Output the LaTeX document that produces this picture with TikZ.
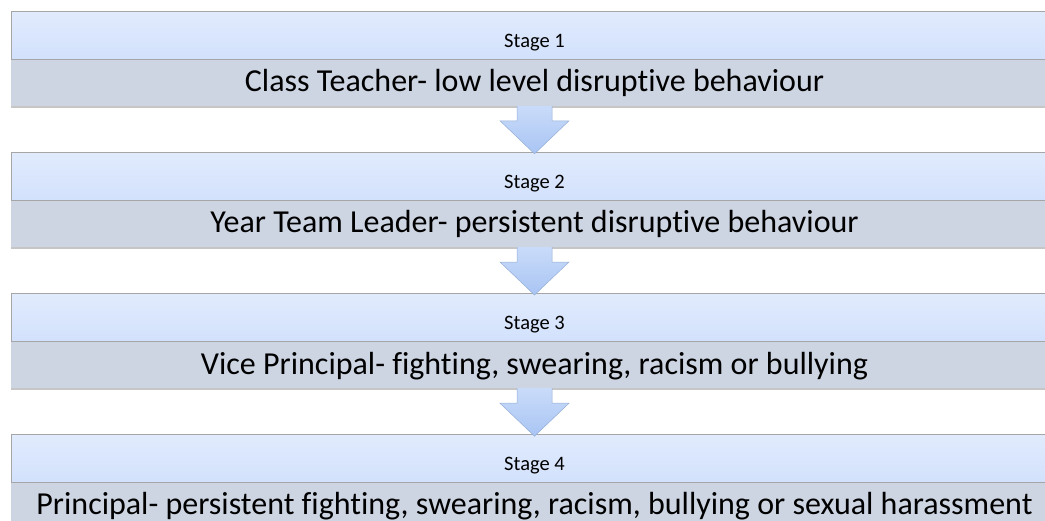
\documentclass[tikz,border=0pt]{standalone}
\usepackage{fontspec}
\setmainfont{Carlito}[Ligatures=NoCommon]
\usepackage{tikz}
\usetikzlibrary{positioning,calc,shadows}
\definecolor{bandtop}{HTML}{E1EBFD}
\definecolor{bandbot}{HTML}{D2E1FC}
\definecolor{lowband}{HTML}{CDD5E3}
\definecolor{pfeiltop}{HTML}{C9DBF9}
\definecolor{pfeilbot}{HTML}{A9C5F4}
\definecolor{pfeilrand}{HTML}{95AED6}
\tikzset{
    %Define style for the upper band of a stage
    stageband/.style={
           rectangle,
           top color=bandtop, bottom color=bandbot,
           draw=black!35, line width=0.8pt,
           minimum width=1047pt,
           minimum height=48pt,
           inner sep=0pt,
           text depth=0pt, text height=24pt,
           font=\fontsize{20.5}{22}\selectfont,
           text centered},
    % Define style for the lower band with the text
    textband/.style={
           rectangle,
           fill=lowband,
           drop shadow={shadow xshift=0pt, shadow yshift=-2pt, opacity=0.45},
           minimum width=1047pt,
           minimum height=46pt,
           inner sep=0pt,
           text height=21pt, text depth=3pt,
           font=\fontsize{32}{34}\selectfont,
           text centered},
    % Define style for the block arrows
    pfeil/.style={
           top color=pfeiltop, bottom color=pfeilbot,
           draw=pfeilrand, line width=0.5pt}
}

\begin{document}
\begin{tikzpicture}[x=1pt,y=1pt,node distance=46pt]
\useasboundingbox (0,0) rectangle (1045,-520);

 %nodes
\node[stageband] (stage1) at (534.5,-35) {Stage 1};
\node[textband, below=0pt of stage1] (main1) {Class Teacher- low level disruptive behaviour};
\node[stageband, below=of main1] (stage2) {Stage 2};
\node[textband, below=0pt of stage2] (main2) {Year Team Leader- persistent disruptive behaviour};
\node[stageband, below=of main2] (stage3) {Stage 3};
\node[textband, below=0pt of stage3] (main3) {Vice Principal- fighting, swearing, racism or bullying};
\node[stageband, below=of main3] (stage4) {Stage 4};
\node[textband, below=0pt of stage4, minimum height=43pt, text height=23pt] (main4) {Principal- persistent fighting, swearing, racism, bullying or sexual harassment};

 %arrows
\foreach \a/\b in {main1/stage2,main2/stage3,main3/stage4}
  \path[pfeil] ($(\a.south)+(-17.5,0)$) -- ($(\a.south)+(-17.5,-15)$)
     -- ($(\a.south)+(-34.5,-15)$) -- ($(\b.north)+(0,-2)$)
     -- ($(\a.south)+(34.5,-15)$) -- ($(\a.south)+(17.5,-15)$)
     -- ($(\a.south)+(17.5,0)$);
\end{tikzpicture}
\end{document}
